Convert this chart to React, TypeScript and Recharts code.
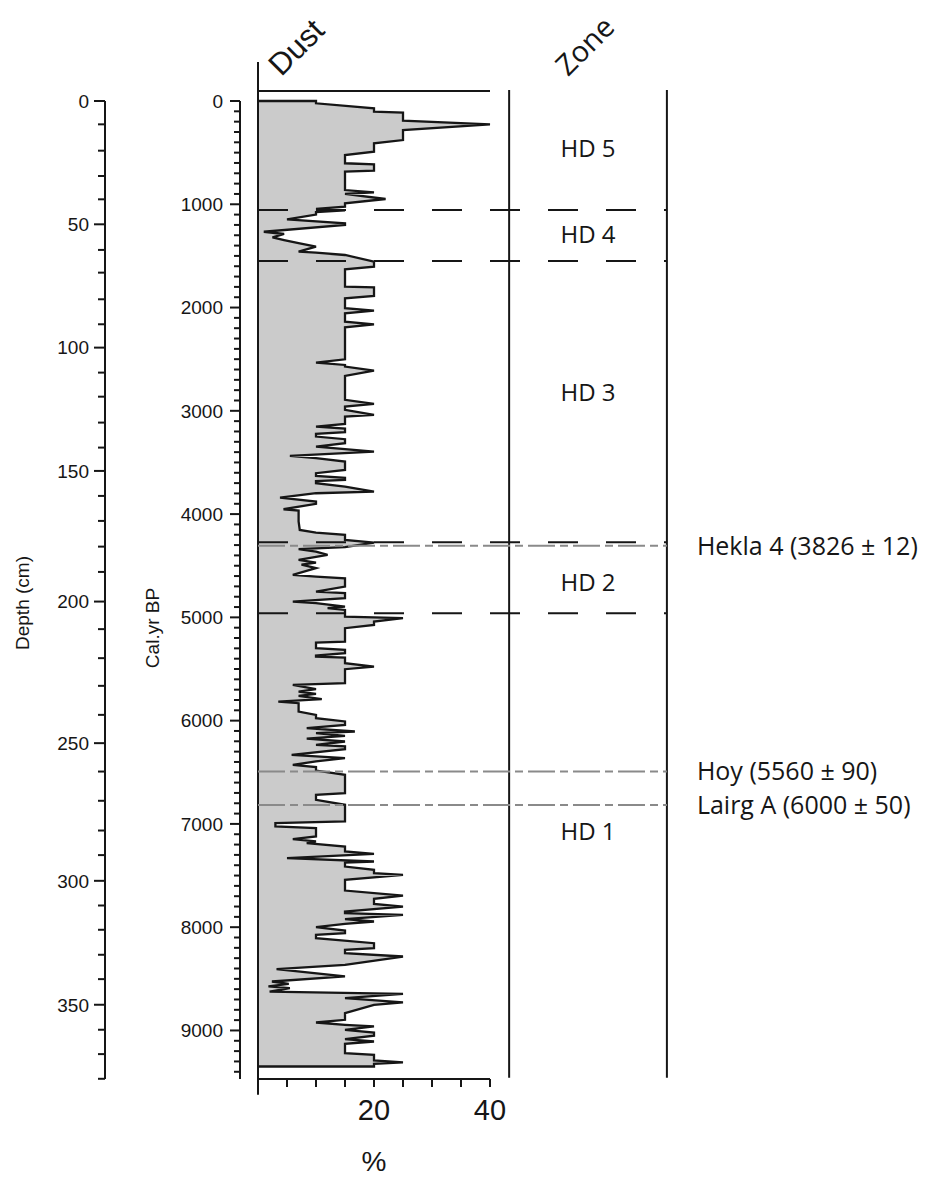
import React from 'react';
import { ComposedChart, Area, XAxis, YAxis, ReferenceLine, ReferenceDot } from 'recharts';

// Dust record: [cal. yr BP, dust %]
const dustSamples: [number, number][] = [
  [0, 0], [0, 10], [22, 10], [71, 20], [103, 20], [113, 25], [190, 25], [226, 40], [281, 25], [378, 25],
  [410, 20], [490, 20], [523, 15], [603, 15], [613, 20], [674, 20], [684, 15], [862, 15], [884, 20], [900, 15],
  [949, 22], [990, 15], [1023, 15], [1045, 10], [1058, 15], [1075, 10], [1100, 10], [1146, 5], [1185, 15], [1200, 15],
  [1266, 1], [1288, 4.5], [1320, 2.5], [1346, 4.5], [1378, 7.2], [1410, 10], [1459, 7], [1469, 10], [1491, 15], [1556, 20],
  [1604, 20], [1630, 15], [1797, 15], [1804, 20], [1888, 20], [1910, 15], [2007, 15], [2030, 20], [2056, 15], [2136, 15],
  [2162, 20], [2191, 15], [2501, 15], [2533, 10], [2556, 15], [2572, 15], [2610, 20], [2662, 15], [2894, 15], [2933, 20],
  [2959, 15], [2991, 15], [3040, 20], [3056, 15], [3127, 15], [3153, 10], [3172, 15], [3207, 15], [3224, 10], [3249, 10],
  [3275, 15], [3314, 15], [3346, 10], [3395, 20], [3437, 5.5], [3459, 10], [3491, 15], [3572, 15], [3604, 10], [3630, 10],
  [3648, 15], [3669, 15], [3680, 10], [3701, 10], [3733, 15], [3782, 20], [3798, 10], [3840, 3.8], [3879, 10], [3901, 10],
  [3953, 4.4], [3966, 7], [4072, 7], [4153, 7.2], [4179, 10], [4201, 15], [4250, 15], [4276, 20], [4320, 15], [4340, 7],
  [4363, 10], [4395, 12], [4443, 7], [4470, 10], [4490, 7.5], [4524, 10], [4589, 6], [4605, 10], [4621, 15], [4702, 15],
  [4750, 10], [4766, 15], [4815, 15], [4847, 6], [4863, 10], [4895, 15], [4911, 12], [4928, 15], [4944, 15], [4992, 15],
  [5008, 25], [5041, 20], [5073, 20], [5105, 15], [5234, 15], [5244, 10], [5299, 10], [5315, 15], [5347, 15], [5370, 10],
  [5380, 10], [5390, 15], [5444, 15], [5476, 20], [5502, 15], [5637, 15], [5653, 6], [5695, 10], [5718, 7], [5741, 10],
  [5760, 7], [5792, 11], [5815, 3.5], [5831, 7], [5912, 7], [5944, 10], [5976, 10], [6008, 15], [6041, 15], [6073, 8.4],
  [6105, 16.7], [6121, 10], [6147, 15], [6175, 8.4], [6202, 15], [6234, 10], [6250, 15], [6276, 15], [6331, 5.8], [6363, 15],
  [6395, 10], [6428, 6], [6450, 10], [6483, 10], [6525, 15], [6702, 15], [6718, 10], [6767, 10], [6815, 15], [6976, 15],
  [6993, 3], [7025, 3], [7041, 10], [7122, 10], [7148, 6], [7170, 10], [7186, 8.4], [7219, 15], [7267, 15], [7290, 20],
  [7332, 5], [7364, 20], [7374, 15], [7413, 15], [7445, 20], [7477, 20], [7493, 25], [7542, 15], [7645, 15], [7694, 25],
  [7726, 20], [7774, 20], [7800, 25], [7848, 15], [7864, 15], [7880, 25], [7922, 15], [7945, 20], [7967, 15], [8000, 10],
  [8032, 15], [8058, 15], [8074, 10], [8106, 10], [8155, 20], [8203, 20], [8219, 15], [8252, 15], [8284, 25], [8365, 15],
  [8406, 3.2], [8477, 15], [8526, 2.4], [8548, 5.3], [8574, 1.8], [8590, 5.5], [8623, 2], [8645, 25], [8687, 15], [8729, 25],
  [8752, 20], [8833, 15], [8897, 15], [8923, 10], [8945, 15], [8961, 20], [8994, 15], [9020, 20], [9050, 20], [9084, 15],
  [9107, 20], [9129, 15], [9220, 15], [9236, 20], [9291, 20], [9310, 25], [9323, 20], [9349, 20], [9349, 0],
];

const depthTickDepths = [0, 10, 20, 30, 40, 50, 60, 70, 80, 90, 100, 110, 120, 130, 140, 150, 160, 170, 180, 190,
  200, 210, 220, 230, 240, 250, 260, 270, 280, 290, 300, 310, 320, 330, 340, 350, 360, 370, 380];
const depthTickAges = [0, 226, 481, 726, 952, 1194, 1442, 1662, 1920, 2162, 2388, 2630, 2863, 3114, 3356, 3582, 3824, 4066, 4315, 4560,
  4847, 5114, 5395, 5663, 5944, 6218, 6493, 6776, 7064, 7302, 7551, 7790, 8025, 8267, 8503, 8751, 8993, 9229, 9468];
const depthLabelEvery = 50;

// Age axis
const ageMajorTicks = [0, 1000, 2000, 3000, 4000, 5000, 6000, 7000, 8000, 9000];
const ageMinorStep = 100;
const ageTickMax = 9400;

// Dust axis
const dustTicks = [0, 5, 10, 15, 20, 25, 30, 35, 40];
const dustLabelTicks = [20, 40];

// Zones
const zoneBoundaryAges = [1055, 1549, 4273, 4959];
const zoneLabels = ['HD 5', 'HD 4', 'HD 3', 'HD 2', 'HD 1'];
const zoneLabelAges = [455, 1297, 2827, 4666, 7077];

// Tephra layers
const tephraNames = ['Hekla 4 (3826 ± 12)', 'Hoy (5560 ± 90)', 'Lairg A (6000 ± 50)'];
const tephraAges = [4306, 6493, 6816];

const AGE_MAX = 9470;
const ZONE_LEFT = 43.3;
const ZONE_RIGHT = 70.5;
const ZONE_MID = 56.9;

const data = dustSamples.map(([age, dust]) => ({ age, dust }));
const ageTicks: number[] = [];
for (let a = 0; a <= ageTickMax; a += ageMinorStep) ageTicks.push(a);

const INK = '#161616';
const SANS = '"Liberation Sans", Arial, sans-serif';
const MYRIAD = '"Open Sans", "Noto Sans", sans-serif';

// axis ids: Recharts stacks same-side axes in id order (first = nearest the plot)
const Y_SP = 'a_sp';
const Y_AGE = 'b_age';
const Y_DEPTH = 'c_depth';
const X_TOPSP = 'a_topsp';
const X_TOP = 'b_top';
const X_PCT = 'pct';

const AgeTick = (p: any) => {
  const { x, y, payload } = p;
  const v = payload.value;
  const major = ageMajorTicks.includes(v);
  return (
    <g>
      <line x1={x - (major ? 10 : 6)} x2={x} y1={y} y2={y} stroke={INK} strokeWidth={2} />
      {major ? (
        <text x={x - 17} y={y} dy="0.36em" textAnchor="end" fontSize={19} fontFamily={SANS} fill={INK}>{v}</text>
      ) : null}
    </g>
  );
};

const DepthTick = (p: any) => {
  const { x, y, payload } = p;
  const i = depthTickAges.indexOf(payload.value);
  const d = depthTickDepths[i];
  const major = d % depthLabelEvery === 0;
  return (
    <g>
      <line x1={x - (major ? 11 : 7)} x2={x} y1={y} y2={y} stroke={INK} strokeWidth={2} />
      {major ? (
        <text x={x - 16} y={y} dy="0.36em" textAnchor="end" fontSize={19} fontFamily={SANS} fill={INK}>{d}</text>
      ) : null}
    </g>
  );
};

const TopTick = (p: any) => {
  const { x, y, payload } = p;
  if (payload.value === 0) return <g />;
  return <line x1={x} x2={x} y1={y} y2={y + 6} stroke={INK} strokeWidth={2} />;
};

const BottomTick = (p: any) => {
  const { x, y, payload } = p;
  const v = payload.value;
  return (
    <g>
      {v > 0 ? <line x1={x} x2={x} y1={y} y2={y + 8} stroke={INK} strokeWidth={2} /> : null}
      {dustLabelTicks.includes(v) ? (
        <text x={x} y={y + 41} textAnchor="middle" fontSize={29} fontFamily={SANS} fill={INK}>{v}</text>
      ) : null}
    </g>
  );
};

export default function App() {
  const axisLine = { stroke: INK, strokeWidth: 2 };
  return (
    <div style={{ position: 'relative', width: 920, height: 1170 }}>
      <ComposedChart
        width={920}
        height={1170}
        layout="vertical"
        data={data}
        margin={{ top: 63, right: 438, bottom: 0, left: 1 }}
      >
        <XAxis xAxisId={X_TOPSP} orientation="top" type="number" domain={[0, 40]} height={10}
          tick={false} axisLine={false} tickLine={false} />
        <XAxis xAxisId={X_TOP} orientation="top" type="number" domain={[0, 40]} height={20}
          ticks={dustTicks} interval={0} tickSize={0} tickMargin={0} tickLine={false}
          tick={TopTick} axisLine={axisLine} />
        <XAxis xAxisId={X_PCT} orientation="bottom" type="number" domain={[0, 40]} height={99}
          ticks={dustTicks} interval={0} tickSize={0} tickMargin={0} tickLine={false}
          tick={BottomTick} axisLine={axisLine} />
        <YAxis yAxisId={Y_SP} type="number" dataKey="age" domain={[0, AGE_MAX]} width={18}
          tick={false} axisLine={false} tickLine={false} />
        <YAxis yAxisId={Y_AGE} type="number" dataKey="age" domain={[0, AGE_MAX]} width={135}
          ticks={ageTicks} interval={0} tickSize={0} tickMargin={0} tickLine={false}
          tick={AgeTick} axisLine={axisLine} />
        <YAxis yAxisId={Y_DEPTH} type="number" dataKey="age" domain={[0, AGE_MAX]} width={96}
          ticks={depthTickAges} interval={0} tickSize={0} tickMargin={0} tickLine={false}
          tick={DepthTick} axisLine={axisLine} />

        <Area xAxisId={X_PCT} yAxisId={Y_AGE} dataKey="dust" type="linear"
          fill="#cbcbcb" fillOpacity={1} stroke={INK} strokeWidth={2.3}
          isAnimationActive={false} dot={false} activeDot={false} />

        <ReferenceLine xAxisId={X_PCT} yAxisId={Y_AGE} ifOverflow="visible"
          segment={[{ x: 0, y: -378 }, { x: 0, y: 9623 }]} stroke={INK} strokeWidth={2} />
        <ReferenceLine xAxisId={X_PCT} yAxisId={Y_AGE} ifOverflow="visible"
          segment={[{ x: ZONE_LEFT, y: -106 }, { x: ZONE_LEFT, y: 9458 }]} stroke={INK} strokeWidth={2} />
        <ReferenceLine xAxisId={X_PCT} yAxisId={Y_AGE} ifOverflow="visible"
          segment={[{ x: ZONE_RIGHT, y: -106 }, { x: ZONE_RIGHT, y: 9458 }]} stroke={INK} strokeWidth={2} />

        {zoneBoundaryAges.map((a) => (
          <ReferenceLine key={'zb' + a} xAxisId={X_PCT} yAxisId={Y_AGE} ifOverflow="visible"
            segment={[{ x: 0, y: a }, { x: ZONE_RIGHT, y: a }]}
            stroke={INK} strokeWidth={2} strokeDasharray="30 28" />
        ))}
        {tephraAges.map((a, i) => (
          <ReferenceLine key={'tp' + a} xAxisId={X_PCT} yAxisId={Y_AGE} ifOverflow="visible"
            segment={[{ x: 0, y: a }, { x: ZONE_RIGHT, y: a }]}
            stroke="#8a8a8a" strokeWidth={2} strokeDasharray="27 5 8 5"
            label={{ value: tephraNames[i], position: 'right', offset: 30, fontSize: 25, fontFamily: MYRIAD, fill: INK }} />
        ))}
        {zoneLabels.map((z, i) => (
          <ReferenceDot key={z} xAxisId={X_PCT} yAxisId={Y_AGE} ifOverflow="visible"
            x={ZONE_MID} y={zoneLabelAges[i]} r={0} fill="none" stroke="none"
            label={{ value: z, position: 'center', fontSize: 24, fontFamily: MYRIAD, fill: INK }} />
        ))}
      </ComposedChart>
      <svg width={920} height={1170} style={{ position: 'absolute', left: 0, top: 0, pointerEvents: 'none' }}>
        <text x={288} y={39} transform="rotate(-45 288 39)" textAnchor="middle" dy="0.35em"
          fontSize={31} fontFamily={SANS} fill={INK}>Dust</text>
        <text x={577} y={38} transform="rotate(-45 577 38)" textAnchor="middle" dy="0.35em"
          fontSize={29} fontFamily={MYRIAD} fill={INK}>Zone</text>
        <text x={144} y={620} transform="rotate(-90 144 620)" textAnchor="middle" dy="0.35em"
          fontSize={19} fontFamily={SANS} fill={INK}>Cal.yr BP</text>
        <text x={14} y={595} transform="rotate(-90 14 595)" textAnchor="middle" dy="0.35em"
          fontSize={19} fontFamily={SANS} fill={INK}>Depth (cm)</text>
        <text x={366} y={1153} textAnchor="middle" dy="0.35em"
          fontSize={28} fontFamily={SANS} fill={INK}>%</text>
      </svg>
    </div>
  );
}
